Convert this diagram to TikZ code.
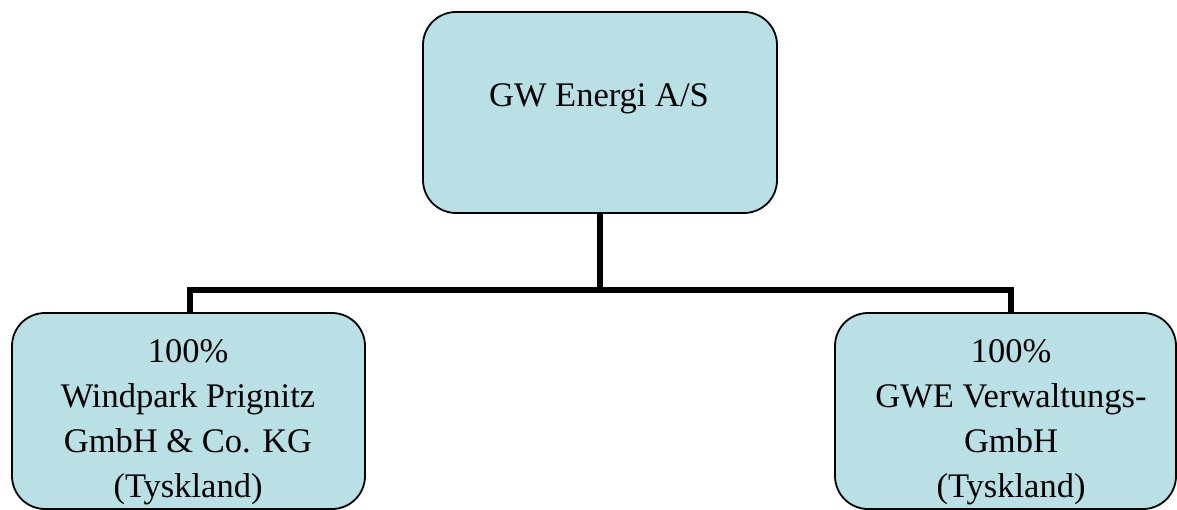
\documentclass[tikz,border=0pt]{standalone}
\usepackage{fontspec}
\setmainfont{Liberation Serif}
\definecolor{boxfill}{RGB}{185,224,228}
\begin{document}
\begin{tikzpicture}[x=1pt,y=-1pt,
  orgbox/.style={draw=black,line width=1.8pt,fill=boxfill,rounded corners=33pt},
  orgtext/.style={font=\fontsize{34.5}{44.7}\selectfont,align=center,anchor=base,inner sep=0pt},
  bus/.style={line width=6pt,line join=miter,line cap=butt}]
\useasboundingbox (0,0) rectangle (1177,510);
\begin{scope}
\clip (0,0) rectangle (1177,510);
\draw[orgbox] (423,12) rectangle (777,213);
\draw[orgbox] (12,313) rectangle (365,509);
\draw[orgbox] (835,313) rectangle (1176,509);
\end{scope}
\node[orgtext] (top) at (599,107) {GW Energi A/S};
\node[orgtext] (left) at (188,497) {100\%\\Windpark Prignitz\\GmbH \& Co. KG\\(Tyskland)};
\node[orgtext] (right) at (1011,497) {100\%\\GWE Verwaltungs-\\GmbH\\(Tyskland)};
\coordinate (topS) at (600,213.8);
\coordinate (bushub) at (600,290);
\coordinate (leftN) at (190,312.2);
\coordinate (rightN) at (1011,312.2);
\draw[bus] (topS) -- (bushub);
\draw[bus] (leftN) |- (bushub) -| (rightN);
\end{tikzpicture}
\end{document}
